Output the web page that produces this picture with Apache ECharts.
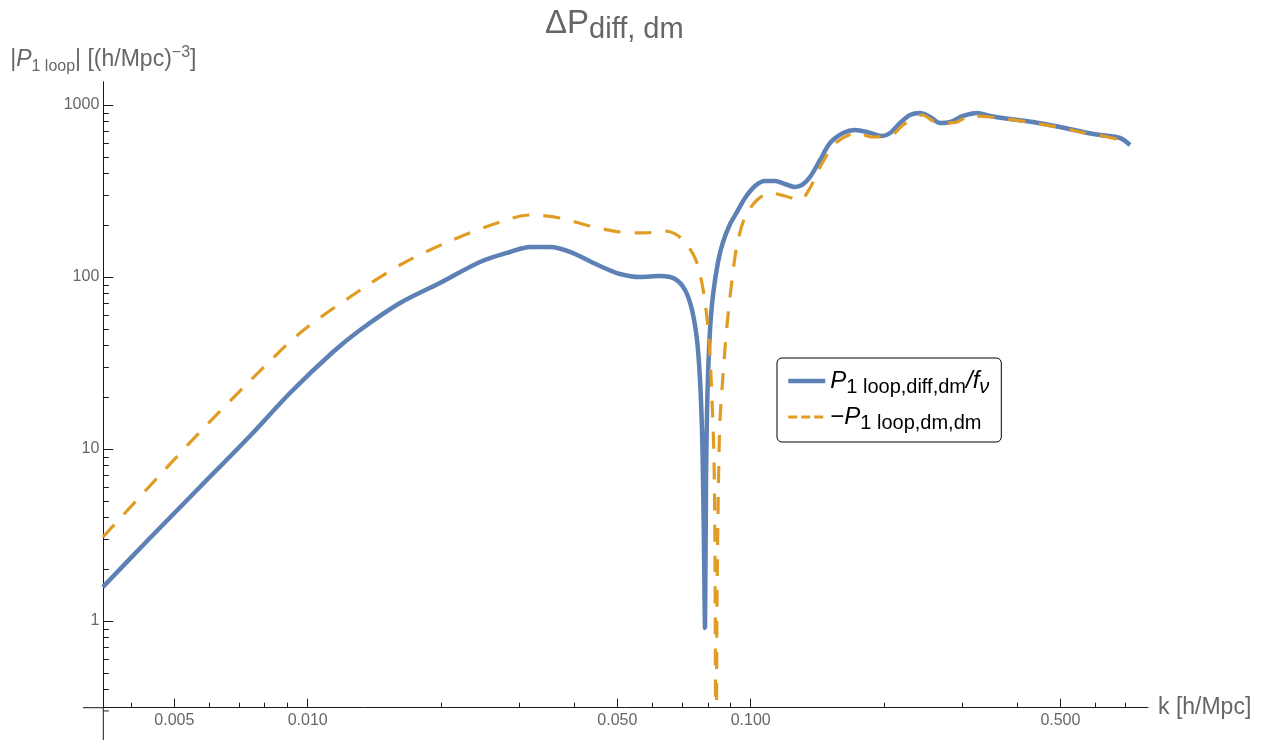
<!DOCTYPE html>
<html><head><meta charset="utf-8">
<script src="https://cdn.jsdelivr.net/npm/echarts@6/dist/echarts.min.js"></script>
<style>html,body{margin:0;padding:0;background:#fff}#c{width:1264px;height:740px}</style>
</head><body><div id="c"></div>
<script>
// ---- data ----
const kBlue = [0.003451, 0.004406, 0.005713, 0.007409, 0.009122, 0.011405, 0.01313, 0.01616, 0.019884, 0.024487, 0.028608, 0.03177, 0.035225, 0.039086, 0.04568, 0.050691, 0.056247, 0.06242, 0.067478, 0.071077, 0.073707, 0.07565, 0.07684, 0.077638, 0.07804, 0.078449, 0.07885, 0.07927, 0.079678, 0.0801, 0.08093, 0.082206, 0.084369, 0.08659, 0.089829, 0.09313, 0.097081, 0.10226, 0.1077, 0.11346, 0.11951, 0.1259, 0.13057, 0.1361, 0.1434, 0.1510, 0.1616, 0.1719, 0.1830, 0.1979, 0.2063, 0.2173, 0.2289, 0.2411, 0.2540, 0.2675, 0.2818, 0.3015, 0.3242, 0.3469, 0.3849, 0.4338, 0.4992, 0.5625, 0.6145, 0.6817, 0.7181];
const pBlue = [1.577, 3.038, 6.013, 11.90, 21.17, 36.64, 49.19, 70.6, 92.3, 122.3, 139.8, 149.4, 149.4, 139.8, 115.9, 104.1, 100.0, 101.3, 97.4, 84.0, 64.3, 43.0, 25.2, 12.9, 6.60, 2.587, 0.911, 6.60, 16.19, 26.93, 49.19, 78.6, 122.3, 159.7, 203.3, 238.8, 288.0, 338.1, 361.5, 361.5, 347.3, 333.6, 342.7, 381.4, 478.9, 601.3, 687.6, 715.7, 696.8, 660.3, 687.6, 786.1, 874.7, 898.5, 851.6, 786.1, 796.7, 863.1, 898.5, 863.1, 829.1, 796.7, 744.9, 696.8, 669.2, 642.9, 585.5];
const kOrange = [0.003451, 0.004640, 0.005713, 0.007409, 0.009608, 0.012459, 0.01616, 0.02096, 0.02717, 0.03177, 0.03711, 0.043375, 0.050691, 0.057727, 0.064056, 0.06817, 0.072186, 0.07565, 0.078449, 0.080513, 0.081778, 0.08263, 0.083064, 0.0835, 0.083928, 0.084587, 0.08525, 0.08659, 0.088413, 0.090743, 0.09313, 0.097081, 0.10333, 0.11055, 0.11951, 0.12922, 0.1361, 0.14112, 0.14863, 0.15656, 0.17378, 0.18785, 0.20844, 0.22072, 0.24369, 0.26067, 0.27746, 0.29227, 0.31263, 0.3469, 0.37897, 0.4338, 0.50691, 0.55381, 0.62408, 0.6817];
const pOrange = [3.079, 7.063, 12.56, 24.86, 47.25, 76.5, 117.4, 161.9, 208.8, 229.4, 220.3, 197.9, 182.6, 180.3, 185.1, 175.4, 151.4, 120.6, 78.6, 43.0, 19.27, 8.63, 2.262, 0.05, 1.325, 6.60, 14.74, 26.93, 52.6, 96.1, 153.5, 223.3, 280.4, 307.8, 295.7, 280.4, 329.2, 402.3, 512.0, 609.4, 687.6, 651.6, 669.2, 765.3, 874.7, 796.7, 786.1, 796.7, 863.1, 851.6, 829.1, 786.1, 735.0, 696.8, 660.3, 626.0];
const seriesNames = ['P1loop,diff,dm/fv', '-P1loop,dm,dm'];
const xMajorTicks = [0.005, 0.01, 0.05, 0.1, 0.5];
const xMinorTicks = [0.004, 0.006, 0.007, 0.008, 0.009, 0.02, 0.03, 0.04, 0.06, 0.07, 0.08, 0.09, 0.2, 0.3, 0.4, 0.6, 0.7];
const yMajorTicks = [1, 10, 100, 1000];
const yMinorTicks = [0.4, 0.5, 0.6, 0.7, 0.8, 0.9, 2, 3, 4, 5, 6, 7, 8, 9, 20, 30, 40, 50, 60, 70, 80, 90, 200, 300, 400, 500, 600, 700, 800, 900];
const yBelowTicks = [0.3];
const xRange = [0.003457, 0.7883];
const yRange = [0.3133, 1366];

const FONT = 'Liberation Sans, Arial, sans-serif';
const BLUE = '#5E81B5', ORANGE = '#E19C24';
const AX = '#1a1a1a', LBL = '#666666';

const chart = echarts.init(document.getElementById('c'), null, {renderer: 'canvas'});
const grid = {left: 103.3, top: 81.7, width: 1044.7, height: 626};

function xAx(major) {
  return {
    type: 'log', gridIndex: 0, position: 'bottom', min: xRange[0], max: xRange[1],
    axisLine: {show: major, lineStyle: {color: AX, width: 1}},
    axisTick: {show: true, inside: true, length: major ? 9 : 5, customValues: major ? xMajorTicks : xMinorTicks, lineStyle: {color: AX, width: 1}},
    axisLabel: {show: major, customValues: xMajorTicks, margin: 5, color: LBL, fontSize: 16, fontFamily: FONT, formatter: v => v.toFixed(3)},
    splitLine: {show: false}, minorTick: {show: false},
    name: major ? 'k [h/Mpc]' : '', nameLocation: 'end', nameGap: 10,
    nameTextStyle: {color: LBL, fontSize: 23, fontFamily: FONT, verticalAlign: 'middle'}
  };
}
function yAx(major) {
  return {
    type: 'log', gridIndex: 0, position: 'left', min: yRange[0], max: yRange[1],
    axisLine: {show: major, lineStyle: {color: AX, width: 1}},
    axisTick: {show: true, inside: true, length: major ? 10 : 5.5, customValues: major ? yMajorTicks : yMinorTicks, lineStyle: {color: AX, width: 1}},
    axisLabel: {show: major, customValues: yMajorTicks, margin: 4, color: LBL, fontSize: 16, fontFamily: FONT, formatter: v => String(v)},
    splitLine: {show: false}, minorTick: {show: false},
    name: major ? '{n||}{i|P}{s|1 loop}{n|| [(h/Mpc)}{sup|−3}{n|]}' : '',
    nameLocation: 'end', nameGap: 7,
    nameTextStyle: {
      color: LBL, fontSize: 23, fontFamily: FONT,
      rich: {
        n: {color: LBL, fontSize: 23, fontFamily: FONT, lineHeight: 30},
        i: {color: LBL, fontSize: 23, fontFamily: FONT, fontStyle: 'italic', lineHeight: 30},
        s: {color: LBL, fontSize: 16, fontFamily: FONT, lineHeight: 18, verticalAlign: 'bottom'},
        sup: {color: LBL, fontSize: 16, fontFamily: FONT, lineHeight: 18, verticalAlign: 'top'}
      }
    }
  };
}

const legendRich = {
  i: {color: '#000', fontSize: 24, fontFamily: FONT, fontStyle: 'italic', lineHeight: 32},
  n: {color: '#000', fontSize: 24, fontFamily: FONT, lineHeight: 32},
  s: {color: '#000', fontSize: 20, fontFamily: FONT, lineHeight: 22, verticalAlign: 'bottom'},
  si: {color: '#000', fontSize: 20, fontFamily: FONT, fontStyle: 'italic', lineHeight: 22, verticalAlign: 'bottom'}
};

chart.setOption({
  animation: false,
  backgroundColor: '#fff',
  title: {
    text: '{a|ΔP}{b|diff, dm}', left: 545, top: 4, padding: 0,
    textStyle: {
      fontWeight: 'normal',
      rich: {
        a: {color: LBL, fontSize: 33, fontFamily: FONT, fontWeight: 'normal', lineHeight: 40},
        b: {color: LBL, fontSize: 29, fontFamily: FONT, fontWeight: 'normal', lineHeight: 30, verticalAlign: 'bottom'}
      }
    }
  },
  grid: grid,
  xAxis: [xAx(true), xAx(false)],
  yAxis: [yAx(true), yAx(false)],
  legend: {
    orient: 'vertical', left: 777, top: 358, padding: [11, 12, 9, 9], itemGap: 8,
    itemWidth: 37, itemHeight: 14, borderColor: '#000', borderWidth: 1, borderRadius: 5,
    backgroundColor: '#fff', selectedMode: false,
    data: [
      {name: seriesNames[0], lineStyle: {width: 4.5}, itemStyle: {opacity: 0}},
      {name: seriesNames[1], lineStyle: {width: 3.2, type: [9, 4]}, itemStyle: {opacity: 0}}
    ],
    textStyle: {rich: legendRich},
    formatter: function (name) {
      if (name === seriesNames[0]) return '{i|P}{s|1 loop,diff,dm}{i|/f}{si|ν}';
      return '{n|−}{i|P}{s|1 loop,dm,dm}';
    }
  },
  series: [
    {
      name: seriesNames[0], type: 'line', xAxisIndex: 0, yAxisIndex: 0,
      data: kBlue.map((k, i) => [k, pBlue[i]]),
      symbol: 'none', smooth: 0.3, clip: true,
      lineStyle: {color: BLUE, width: 4.5}, itemStyle: {color: BLUE}, z: 2
    },
    {
      name: seriesNames[1], type: 'line', xAxisIndex: 0, yAxisIndex: 0,
      data: kOrange.map((k, i) => [k, pOrange[i]]),
      symbol: 'none', smooth: 0.3, clip: true,
      lineStyle: {color: ORANGE, width: 3.2, type: [17, 14]}, itemStyle: {color: ORANGE}, z: 3
    }
  ]
});

// axis extensions beyond the plot range (Mathematica draws axes slightly past the range)
const o = chart.convertToPixel({xAxisIndex: 0, yAxisIndex: 0}, [xRange[0], yRange[0]]);
const extra = [
  {type: 'line', shape: {x1: o[0], y1: o[1], x2: o[0], y2: 745}, style: {stroke: AX, lineWidth: 1}},
  {type: 'line', shape: {x1: o[0] - 20.3, y1: o[1], x2: o[0], y2: o[1]}, style: {stroke: AX, lineWidth: 1}}
];
yBelowTicks.forEach(v => {
  const p = chart.convertToPixel({xAxisIndex: 0, yAxisIndex: 0}, [xRange[0], v]);
  extra.push({type: 'line', shape: {x1: o[0], y1: p[1], x2: o[0] + 5.5, y2: p[1]}, style: {stroke: AX, lineWidth: 1}});
});
chart.setOption({graphic: extra.map(e => Object.assign({silent: true, z: 10}, e))});
</script>
</body></html>
